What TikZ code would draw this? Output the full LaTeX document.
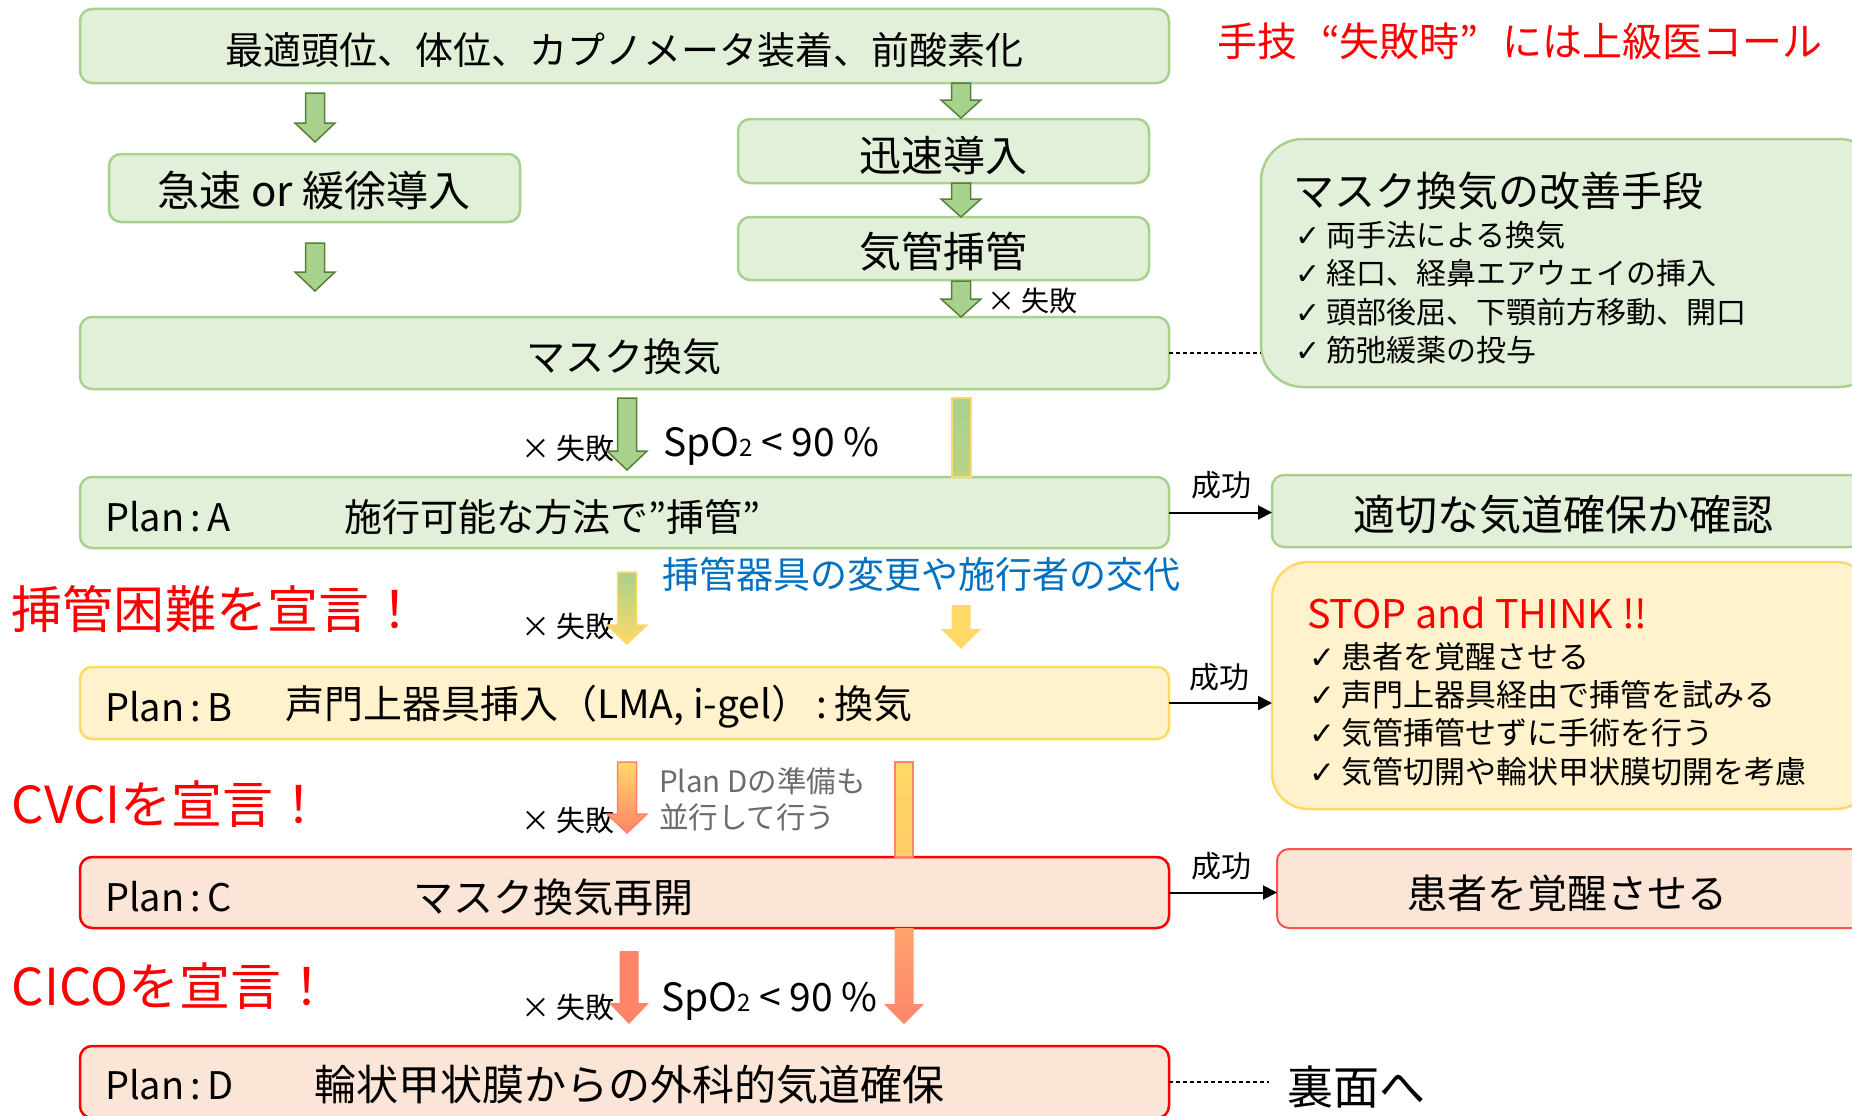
\documentclass[tikz,border=0pt]{standalone}
\usepackage{fontspec}
\setmainfont{Noto Sans CJK JP}
\newfontfamily\dejavu{DejaVu Sans}
\usetikzlibrary{arrows.meta,calc}
\definecolor{gfill}{HTML}{E2F0D9}
\definecolor{gline}{HTML}{A9D18E}
\definecolor{yfill}{HTML}{FFF2CC}
\definecolor{yline}{HTML}{FFD966}
\definecolor{rfill}{HTML}{FBE5D6}
\definecolor{rline}{HTML}{FF0000}
\definecolor{wline}{HTML}{FF5050}
\definecolor{garfill}{HTML}{A9D18E}
\definecolor{garline}{HTML}{548235}
\definecolor{salmon}{HTML}{FF8469}
\definecolor{lorange}{HTML}{FFA46E}
\definecolor{bluetxt}{HTML}{0070C0}
\definecolor{graytxt}{HTML}{6B6B6B}
\definecolor{redtxt}{HTML}{FF0000}
\newcommand\fs[1]{\fontsize{#1pt}{#1pt}\selectfont}
\newcommand\chk{{\dejavu ✓}}
\newcommand\spo{SpO{\fs{24}2} < 90 \%}
\newcommand\blockarrow[4]{%
  \path[#1] let \p1=(#2), \p2=(#3) in
   (\x1-9.5pt,\y1) -- (\x1+9.5pt,\y1) -- (\x1+9.5pt,\y2+#4) -- (\x1+20pt,\y2+#4)
   -- (\x1,\y2) -- (\x1-20pt,\y2+#4) -- (\x1-9.5pt,\y2+#4) -- cycle;}
\tikzset{
  box/.style={rounded corners=12pt, line width=2.5pt, inner sep=0pt, outer sep=0pt, anchor=north west},
  gbox/.style={box, draw=gline, fill=gfill},
  ybox/.style={box, draw=yline, fill=yfill},
  rbox/.style={box, draw=rline, fill=rfill},
  txt/.style={inner sep=0pt, outer sep=0pt, text=black},
  okarrow/.style={line width=2pt, -{Triangle[length=14pt,width=14pt]}},
  dashline/.style={line width=1.2pt, dash pattern=on 4pt off 3pt},
  garrow/.style={fill=garfill, draw=garline, line width=1.5pt},
  yarrow/.style={fill=yline},
  sarrow/.style={fill=salmon},
}
\begin{document}
\begin{tikzpicture}[x=1pt,y=-1pt]
\useasboundingbox (0,0) rectangle (1852,1116);
\clip (0,0) rectangle (1852,1116);
% boxes
\node[gbox, minimum width=1089pt, minimum height=74pt] (top) at (80,9) {};
\node[gbox, minimum width=411pt, minimum height=68pt] (slow) at (109,154) {};
\node[gbox, minimum width=411pt, minimum height=64pt] (rapid) at (738,119) {};
\node[gbox, minimum width=411pt, minimum height=63pt] (intub) at (738,217) {};
\node[gbox, minimum width=1089pt, minimum height=72pt] (mask) at (80,317) {};
\node[gbox, rounded corners=42pt, minimum width=620pt, minimum height=248pt] (improve) at (1261,139) {};
\node[gbox, minimum width=1089pt, minimum height=71pt] (planA) at (80,477) {};
\node[gbox, minimum width=590pt, minimum height=72pt] (confirm) at (1272,475) {};
\node[ybox, minimum width=1089pt, minimum height=72pt] (planB) at (80,667) {};
\node[ybox, rounded corners=36pt, minimum width=600pt, minimum height=247pt] (stop) at (1272,562) {};
\node[rbox, minimum width=1089pt, minimum height=71pt] (planC) at (80,857) {};
\node[box, draw=wline, fill=rfill, line width=2pt, minimum width=590pt, minimum height=79pt] (wake) at (1277,849) {};
\node[rbox, minimum width=1089pt, minimum height=72pt] (planD) at (80,1046) {};
% box texts
\node[txt, font=\fs{38}] (ttop) at (624,50) {最適頭位、体位、カプノメータ装着、前酸素化};
\node[txt, font=\fs{42}] (tslow) at (314,191) {急速 or 緩徐導入};
\node[txt, font=\fs{42}] (trapid) at (943,155) {迅速導入};
\node[txt, font=\fs{42}] (tintub) at (943,252) {気管挿管};
\node[txt, font=\fs{39}] (tmask) at (624,357) {マスク換気};
\node[txt, font=\fs{38}, anchor=west] (lA) at (105,517) {Plan\,:\,A};
\node[txt, font=\fs{38}, anchor=west] (tA) at (344,517) {施行可能な方法で”挿管”};
\node[txt, font=\fs{38}, anchor=west] (lB) at (105,707) {Plan\,:\,B};
\node[txt, font=\fs{39}, anchor=west] (tB) at (285,707) {声門上器具挿入（LMA, i-gel）\,:\,換気};
\node[txt, font=\fs{38}, anchor=west] (lC) at (105,897) {Plan\,:\,C};
\node[txt, font=\fs{40}, anchor=west] (tC) at (413,897) {マスク換気再開};
\node[txt, font=\fs{38}, anchor=west] (lD) at (105,1085) {Plan\,:\,D};
\node[txt, font=\fs{42}, anchor=west] (tD) at (314,1085) {輪状甲状膜からの外科的気道確保};
\node[txt, font=\fs{42}] (tconfirm) at (1563,515) {適切な気道確保か確認};
\node[txt, font=\fs{40}] (twake) at (1567,893) {患者を覚醒させる};
% improve box
\node[txt, font=\fs{41}, anchor=west] (imt) at (1293,191) {マスク換気の改善手段};
\node[txt, font=\fs{30}, anchor=west] (im1) at (1295,235) {\chk\ 両手法による換気};
\node[txt, font=\fs{30}, anchor=west] (im2) at (1295,273) {\chk\ 経口、経鼻エアウェイの挿入};
\node[txt, font=\fs{30}, anchor=west] (im3) at (1295,312) {\chk\ 頭部後屈、下顎前方移動、開口};
\node[txt, font=\fs{30}, anchor=west] (im4) at (1295,350) {\chk\ 筋弛緩薬の投与};
% stop box
\node[txt, font=\fs{39.5}, anchor=west, text=redtxt] (stt) at (1307,613) {STOP and THINK !!};
\node[txt, font=\fs{31}, anchor=west] (st1) at (1309,657) {\chk\ 患者を覚醒させる};
\node[txt, font=\fs{31}, anchor=west] (st2) at (1309,695) {\chk\ 声門上器具経由で挿管を試みる};
\node[txt, font=\fs{31}, anchor=west] (st3) at (1309,733) {\chk\ 気管挿管せずに手術を行う};
\node[txt, font=\fs{31}, anchor=west] (st4) at (1309,772) {\chk\ 気管切開や輪状甲状膜切開を考慮};
% free texts
\node[txt, font=\fs{40}, anchor=west, text=redtxt] (call) at (1217,41) {手技\hspace{24pt}“失敗時”\hspace{24pt}には上級医コール};
\node[txt, font=\fs{51}, anchor=west, text=redtxt] (d1) at (12,609) {挿管困難を宣言！};
\node[txt, font=\fs{51}, anchor=west, text=redtxt] (d2) at (12,804) {CVCIを宣言！};
\node[txt, font=\fs{51}, anchor=west, text=redtxt] (d3) at (12,986) {CICOを宣言！};
\node[txt, font=\fs{37}, anchor=west, text=bluetxt] (blue) at (662,574) {挿管器具の変更や施行者の交代};
\node[txt, font=\fs{29.5}, anchor=west, text=graytxt] (g1) at (659,781) {Plan Dの準備も};
\node[txt, font=\fs{29.5}, anchor=west, text=graytxt] (g2) at (659,817) {並行して行う};
\node[txt, font=\fs{28}, anchor=west] (f0) at (987,301) {× 失敗};
\node[txt, font=\fs{29}, anchor=west] (f1) at (521,448) {× 失敗};
\node[txt, font=\fs{29}, anchor=west] (f2) at (521,626) {× 失敗};
\node[txt, font=\fs{29}, anchor=west] (f3) at (521,820) {× 失敗};
\node[txt, font=\fs{29}, anchor=west] (f4) at (521,1007) {× 失敗};
\node[txt, font=\fs{39}, anchor=west] (sp1) at (663,446) {\spo};
\node[txt, font=\fs{39}, anchor=west] (sp2) at (661,1001) {\spo};
\node[txt, font=\fs{30}] (s1) at (1221,485) {成功};
\node[txt, font=\fs{30}] (s2) at (1219,677) {成功};
\node[txt, font=\fs{30}] (s3) at (1221,866) {成功};
\node[txt, font=\fs{46}, anchor=west] (ura) at (1287,1087) {裏面へ};
% thin connectors
\draw[okarrow] (planA.east) -- (planA.east -| confirm.west);
\draw[okarrow] (planB.east) -- (planB.east -| stop.west);
\draw[okarrow] (planC.east) -- (planC.east -| wake.west);
\draw[dashline] (mask.east) -- (mask.east -| improve.west);
\coordinate (uraend) at (1269,1082);
\draw[dashline] (planD.east) -- (uraend);
% block arrow coordinates
\coordinate (a1s) at (315,93);  \coordinate (a1e) at (315,142);
\coordinate (a2s) at (315,243); \coordinate (a2e) at (315,291);
\coordinate (a3s) at (961,83);  \coordinate (a3e) at (961,118);
\coordinate (a4s) at (961,183); \coordinate (a4e) at (961,217);
\coordinate (a5s) at (961,281); \coordinate (a5e) at (961,317);
\coordinate (a6s) at (627,398); \coordinate (a6e) at (627,470);
\coordinate (a7s) at (627,572); \coordinate (a7e) at (627,644);
\coordinate (a8s) at (961,605); \coordinate (a8e) at (961,649);
\coordinate (a9s) at (627,762); \coordinate (a9e) at (627,833);
\coordinate (a10s) at (629,951); \coordinate (a10e) at (629,1024);
\coordinate (a11s) at (904,928); \coordinate (a11e) at (904,1024);
\blockarrow{garrow}{a1s}{a1e}{19pt}
\blockarrow{garrow}{a2s}{a2e}{19pt}
\blockarrow{garrow}{a3s}{a3e}{18pt}
\blockarrow{garrow}{a4s}{a4e}{18pt}
\blockarrow{garrow}{a5s}{a5e}{18pt}
\blockarrow{garrow}{a6s}{a6e}{19pt}
\blockarrow{draw=yline, line width=1.5pt, top color=garfill, bottom color=yline}{a7s}{a7e}{19pt}
\blockarrow{yarrow}{a8s}{a8e}{20pt}
\blockarrow{draw=salmon, line width=1.5pt, top color=yline, bottom color=salmon}{a9s}{a9e}{19pt}
\blockarrow{sarrow}{a10s}{a10e}{21pt}
\blockarrow{top color=lorange, bottom color=salmon}{a11s}{a11e}{20pt}
% bars
\path[draw=yline, line width=1.5pt, top color=garfill, bottom color=garfill!80!yline] (952,398) rectangle (971,477);
\path[draw=salmon, line width=1.5pt, top color=yline, bottom color=yline!75!lorange] (895,762) rectangle (913,857);
\end{tikzpicture}
\end{document}
